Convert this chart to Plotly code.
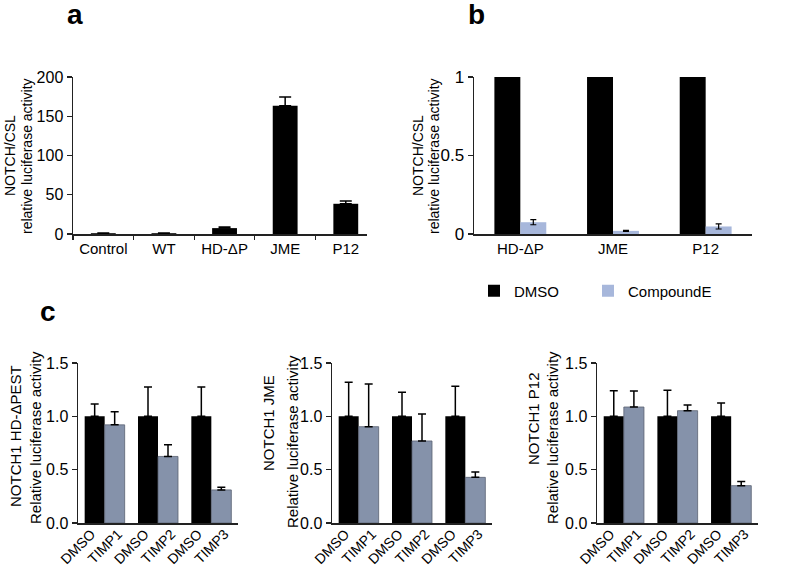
import plotly.graph_objects as go

W, H = 800, 571

# ---------------- data ----------------
a_categories = ["Control", "WT", "HD-ΔP", "JME", "P12"]
a_values = [1.0, 1.0, 7.5, 163.5, 38.5]
a_errors = [0.4, 0.4, 1.5, 11.0, 3.5]

b_categories = ["HD-ΔP", "JME", "P12"]
b_dmso = [1.0, 1.0, 1.0]
b_compound = [0.075, 0.02, 0.048]
b_compound_err = [0.016, 0.003, 0.016]

c_categories = ["DMSO-1", "TIMP1", "DMSO-2", "TIMP2", "DMSO-3", "TIMP3"]
c_tick_labels = ["DMSO", "TIMP1", "DMSO", "TIMP2", "DMSO", "TIMP3"]
c_dmso_cats = ["DMSO-1", "DMSO-2", "DMSO-3"]
c_timp_cats = ["TIMP1", "TIMP2", "TIMP3"]

c1_dmso = [1.0, 1.0, 1.0]
c1_dmso_err = [0.115, 0.276, 0.276]
c1_timp = [0.92, 0.624, 0.31]
c1_timp_err = [0.123, 0.109, 0.025]

c2_dmso = [1.0, 1.0, 1.0]
c2_dmso_err = [0.319, 0.225, 0.281]
c2_timp = [0.903, 0.769, 0.428]
c2_timp_err = [0.40, 0.253, 0.05]

c3_dmso = [1.0, 1.0, 1.0]
c3_dmso_err = [0.24, 0.244, 0.125]
c3_timp = [1.0875, 1.053, 0.35]
c3_timp_err = [0.15, 0.053, 0.04]

c_titles = ["NOTCH1 HD-ΔPEST", "NOTCH1 JME", "NOTCH1 P12"]

# ---------------- style ----------------
FONT = "Arial, Liberation Sans, Helvetica, sans-serif"
BLACK = "#000000"
TIMP_COLOR = "#8592aa"
TIMP_LINE = "#5a6272"
CMPD_COLOR = "#a7b7db"
AXIS_COLOR = "#222222"


def px(x):
    return x / W


def py(y):
    return 1 - y / H


fig = go.Figure()

# ---------- panel a ----------
fig.add_trace(go.Bar(
    x=a_categories, y=a_values, width=0.41,
    marker=dict(color=BLACK, line=dict(width=0)),
    error_y=dict(type="data", array=a_errors, arrayminus=[0] * len(a_errors),
                 symmetric=False, color=BLACK, thickness=1.5, width=6),
    xaxis="x", yaxis="y", showlegend=False,
))

# ---------- panel b ----------
fig.add_trace(go.Bar(
    x=b_categories, y=b_dmso, name="DMSO",
    marker=dict(color=BLACK, line=dict(width=0)),
    xaxis="x2", yaxis="y2", showlegend=True, legend="legend",
))
fig.add_trace(go.Bar(
    x=b_categories, y=b_compound, name="CompoundE",
    marker=dict(color=CMPD_COLOR, line=dict(width=0)),
    error_y=dict(type="data", array=b_compound_err, color=BLACK, thickness=1.2, width=3),
    xaxis="x2", yaxis="y2", showlegend=True, legend="legend2",
))

# ---------- panel c ----------
c_sets = [
    (c1_dmso, c1_dmso_err, c1_timp, c1_timp_err),
    (c2_dmso, c2_dmso_err, c2_timp, c2_timp_err),
    (c3_dmso, c3_dmso_err, c3_timp, c3_timp_err),
]
for i, (dm, dme, tp, tpe) in enumerate(c_sets):
    xa = "x%d" % (i + 3)
    ya = "y%d" % (i + 3)
    fig.add_trace(go.Bar(
        x=c_dmso_cats, y=dm, width=0.75, offset=-0.25,
        marker=dict(color=BLACK, line=dict(width=0)),
        error_y=dict(type="data", array=dme, arrayminus=[0] * 3, symmetric=False,
                     color=BLACK, thickness=1.5, width=4),
        xaxis=xa, yaxis=ya, showlegend=False,
    ))
    fig.add_trace(go.Bar(
        x=c_timp_cats, y=tp, width=0.75, offset=-0.5,
        marker=dict(color=TIMP_COLOR, line=dict(width=0.8, color=TIMP_LINE)),
        error_y=dict(type="data", array=tpe, arrayminus=[0] * 3, symmetric=False,
                     color=BLACK, thickness=1.5, width=4),
        xaxis=xa, yaxis=ya, showlegend=False,
    ))

# ---------- axes ----------
axis_common = dict(showgrid=False, zeroline=False, showline=True, linecolor=AXIS_COLOR,
                   linewidth=1.5, fixedrange=True, automargin=False)

top_dom = [py(234), py(77)]
bot_dom = [py(523), py(363)]

legend_common = dict(orientation="h", yanchor="middle", xanchor="left",
                     font=dict(size=15, family=FONT, color=BLACK),
                     bgcolor="rgba(0,0,0,0)", borderwidth=0)

layout = dict(
    template="none",
    width=W, height=H,
    margin=dict(l=0, r=0, t=0, b=0, pad=0, autoexpand=False),
    paper_bgcolor="white", plot_bgcolor="white",
    font=dict(family=FONT, color=BLACK),
    barmode="group", bargap=0.44, bargroupgap=0,
    # panel a
    xaxis=dict(axis_common, domain=[px(73), px(367)], anchor="y", type="category",
               range=[-0.5, 4.35], ticks="outside", tickson="boundaries", ticklen=4,
               tickwidth=1.2, tickcolor=AXIS_COLOR, tickfont=dict(size=15, family=FONT)),
    yaxis=dict(axis_common, domain=top_dom, anchor="x", range=[0, 200],
               tickvals=[0, 50, 100, 150, 200], ticks="outside", ticklen=5, tickwidth=1.2,
               tickcolor=AXIS_COLOR, tickfont=dict(size=16, family=FONT)),
    # panel b
    xaxis2=dict(axis_common, domain=[px(474), px(752)], anchor="y2", type="category",
                range=[-0.5, 2.5], ticks="", tickfont=dict(size=15, family=FONT)),
    yaxis2=dict(axis_common, domain=top_dom, anchor="x2", range=[0, 1],
                tickvals=[0, 0.5, 1], ticktext=["0", "0.5", "1"], ticks="outside",
                ticklen=5, tickwidth=1.2, tickcolor=AXIS_COLOR,
                tickfont=dict(size=17, family=FONT)),
    legend=dict(legend_common, x=px(474), y=py(291)),
    legend2=dict(legend_common, x=px(588), y=py(291)),
)

c_x_domains = [[px(78), px(238)], [px(332), px(492)], [px(597), px(758)]]
for i in range(3):
    n = i + 3
    layout["xaxis%d" % n] = dict(axis_common, domain=c_x_domains[i], anchor="y%d" % n,
                                 type="category", categoryorder="array",
                                 categoryarray=c_categories, range=[-0.5, 5.5],
                                 tickvals=c_categories, ticktext=c_tick_labels,
                                 tickangle=-45, ticks="", ticklabelstandoff=-4,
                                 tickfont=dict(size=14, family=FONT))
    layout["yaxis%d" % n] = dict(axis_common, domain=bot_dom, anchor="x%d" % n,
                                 range=[0, 1.5], tickvals=[0, 0.5, 1.0, 1.5],
                                 tickformat=".1f", ticks="outside", ticklen=5,
                                 tickwidth=1.2, tickcolor=AXIS_COLOR,
                                 tickfont=dict(size=16, family=FONT))

fig.update_layout(**layout)

# ---------- text annotations ----------
ann = []


def add_text(text, x, y, size, bold=False, angle=0):
    ann.append(dict(text=("<b>%s</b>" % text) if bold else text, x=px(x), y=py(y),
                    xref="paper", yref="paper", showarrow=False, textangle=angle,
                    xanchor="center", yanchor="middle",
                    font=dict(size=size, family=FONT, color=BLACK)))


add_text("a", 75, 14, 28, bold=True)
add_text("b", 476, 14, 28, bold=True)
add_text("c", 48, 312, 28, bold=True)

add_text("NOTCH/CSL", 10, 156, 14, angle=-90)
add_text("relative luciferase activity", 27, 156, 14, angle=-90)
add_text("NOTCH/CSL", 418, 156, 14, angle=-90)
add_text("relative luciferase activity", 434, 156, 14, angle=-90)

c_title_pos = [((15, 436), (35, 438)), ((268, 423), (292, 442)), ((533, 419), (552, 438))]
for i in range(3):
    (x1, y1), (x2, y2) = c_title_pos[i]
    add_text(c_titles[i], x1, y1, 15, angle=-90)
    add_text("Relative luciferase activity", x2, y2, 15, angle=-90)

fig.update_layout(annotations=ann)

# remove the default page margin so the 800x571 figure fills the window exactly
fig.write_html("out.html",
               config={"displayModeBar": False, "staticPlot": True},
               post_script="document.body.style.margin='0';document.body.style.padding='0';")
